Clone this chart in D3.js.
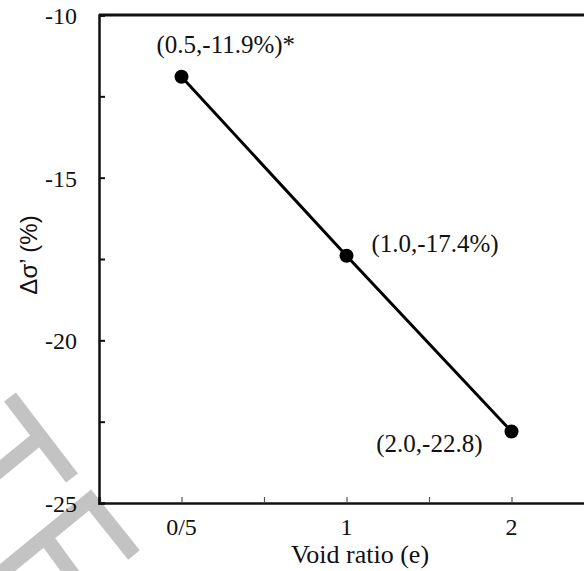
<!DOCTYPE html>
<html>
<head>
<meta charset="utf-8">
<script src="https://cdn.jsdelivr.net/npm/d3@7"></script>
<style>
  body { margin: 0; background: #fff; }
  svg { display: block; }
  .serif { font-family: 'Times New Roman', Times, 'Liberation Serif', 'Noto Serif', 'DejaVu Serif', serif; }
  .sans { font-family: Arial, 'Liberation Sans', 'DejaVu Sans', sans-serif; }
</style>
</head>
<body>
<div id="graph"></div>
<script>
// data
const categories = ['0/5', '1', '2'];
const voidRatio = [0.5, 1.0, 2.0];
const deltaSigma = [-11.9, -17.4, -22.8];
const pointLabels = ['(0.5,-11.9%)*', '(1.0,-17.4%)', '(2.0,-22.8)'];
const yTicks = [-10, -15, -20, -25];

const width = 584;
const height = 571;
const margin = { left: 99, top: 15, right: -10, bottom: 68 };

const svg = d3.select('#graph')
  .append('svg')
  .attr('width', width)
  .attr('height', height);

// watermark strokes (gray, behind everything)
const wm = svg.append('g')
  .attr('fill', 'none')
  .attr('stroke', '#c3c3c3')
  .attr('stroke-width', 15);
wm.append('path').attr('d', 'M10,397L72,478M40,437L-10,478');
wm.append('path').attr('d', 'M134,555L90,500L-10,582M45,537L75,578');

// scales
const x = d3.scaleLinear()
  .domain([0, 3])
  .range([margin.left, width - margin.right]);
const xPos = (i) => x(i + 0.5);

const y = d3.scaleLinear()
  .domain([-25, -10])
  .range([height - margin.bottom, margin.top]);

// frame
svg.append('line')
  .attr('x1', margin.left).attr('x2', width + 5)
  .attr('y1', y(-10)).attr('y2', y(-10))
  .attr('stroke', '#111')
  .attr('stroke-width', 3);

// y axis
const yAxis = svg.append('g')
  .attr('transform', `translate(${margin.left},0)`)
  .call(d3.axisRight(y)
    .tickValues(d3.range(-25, -9.9, 2.5))
    .tickSize(6)
    .tickFormat(''));
yAxis.select('.domain').attr('stroke', '#111').attr('stroke-width', 2.5);
yAxis.selectAll('.tick line').attr('stroke', '#111').attr('stroke-width', 2);

svg.append('g')
  .selectAll('text')
  .data(yTicks)
  .join('text')
  .attr('class', 'serif')
  .attr('x', 77)
  .attr('y', (d) => y(d) + 9)
  .attr('text-anchor', 'end')
  .attr('font-size', 24)
  .attr('fill', '#111')
  .text((d) => d);

// x axis
const xAxis = svg.append('g')
  .attr('transform', `translate(0,${y(-25)})`)
  .call(d3.axisTop(x)
    .tickValues([0.5, 1, 1.5, 2, 2.5])
    .tickSize(6)
    .tickFormat(''));
xAxis.select('.domain').attr('stroke', '#111').attr('stroke-width', 2.5);
xAxis.selectAll('.tick line').attr('stroke', '#555').attr('stroke-width', 1.2);

svg.append('g')
  .selectAll('text')
  .data(categories)
  .join('text')
  .attr('class', 'serif')
  .attr('x', (d, i) => xPos(i))
  .attr('y', 535)
  .attr('text-anchor', 'middle')
  .attr('font-size', 24)
  .attr('fill', '#111')
  .text((d) => d);

// axis titles
svg.append('text')
  .attr('class', 'serif')
  .attr('x', 360)
  .attr('y', 563)
  .attr('text-anchor', 'middle')
  .attr('font-size', 26)
  .attr('fill', '#111')
  .text('Void ratio (e)');

svg.append('text')
  .attr('class', 'sans')
  .attr('transform', 'translate(37,255) rotate(-90)')
  .attr('text-anchor', 'middle')
  .attr('font-size', 24)
  .attr('fill', '#111')
  .text('\u0394\u03c3\u2019 (%)');

// data line
const points = deltaSigma.map((v, i) => ({ i, v, e: voidRatio[i], label: pointLabels[i] }));

svg.append('path')
  .datum(points)
  .attr('fill', 'none')
  .attr('stroke', '#000')
  .attr('stroke-width', 3)
  .attr('d', d3.line()
    .x((d) => xPos(d.i))
    .y((d) => y(d.v)));

svg.append('g')
  .selectAll('circle')
  .data(points)
  .join('circle')
  .attr('cx', (d) => xPos(d.i))
  .attr('cy', (d) => y(d.v))
  .attr('r', 7)
  .attr('fill', '#000');

// point labels
const labelOffsets = [
  { dx: -25, dy: -24, anchor: 'start' },
  { dx: 25, dy: -4, anchor: 'start' },
  { dx: -29, dy: 21, anchor: 'end' },
];
svg.append('g')
  .selectAll('text')
  .data(points)
  .join('text')
  .attr('class', 'serif')
  .attr('x', (d, i) => xPos(d.i) + labelOffsets[i].dx)
  .attr('y', (d, i) => y(d.v) + labelOffsets[i].dy)
  .attr('text-anchor', (d, i) => labelOffsets[i].anchor)
  .attr('font-size', 25)
  .attr('fill', '#111')
  .text((d) => d.label);
</script>
</body>
</html>
